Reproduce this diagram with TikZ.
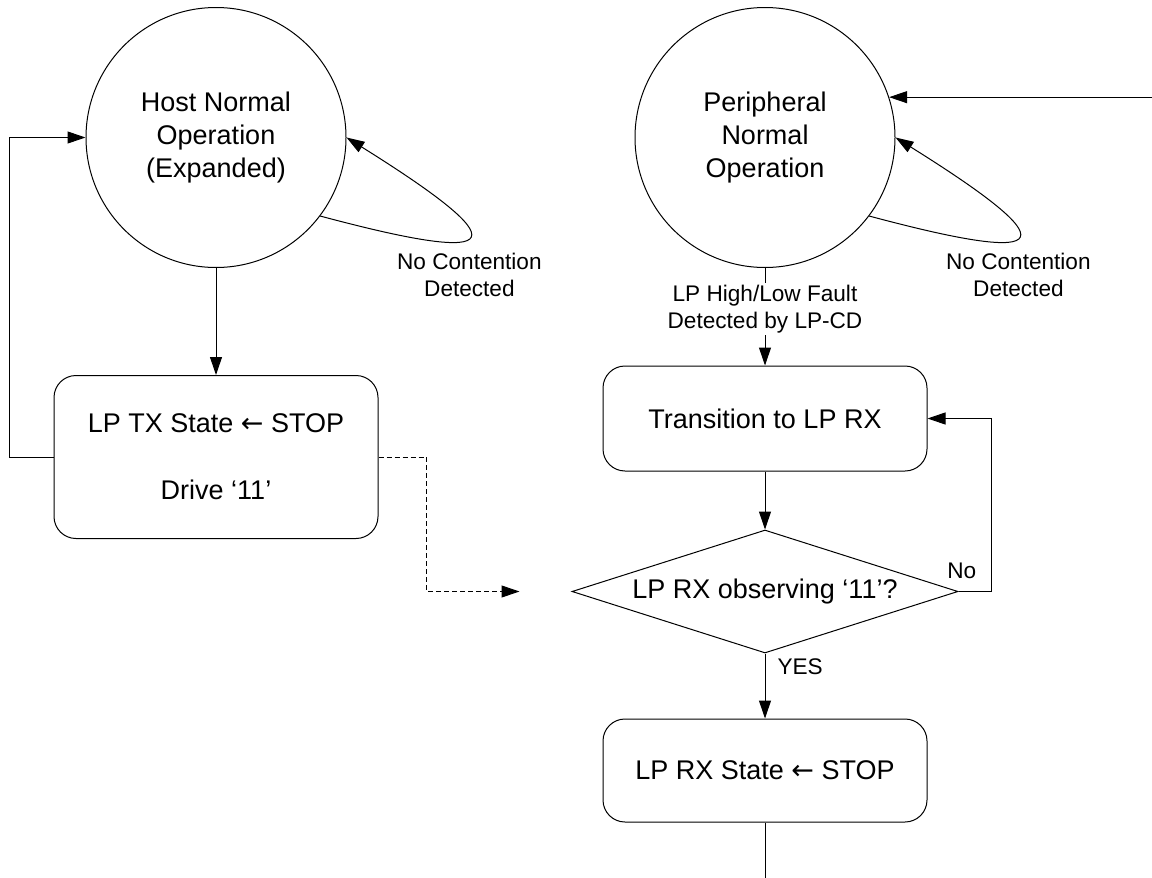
\documentclass[tikz,border=0pt]{standalone}
\usepackage{fontspec}
\setmainfont{Liberation Sans}
\newfontfamily\arrowfont{DejaVu Sans}
\usepackage{tikz}
\usetikzlibrary{calc}
\usetikzlibrary{shapes.geometric}
\usetikzlibrary{arrows.meta}
\usetikzlibrary{positioning}
\newcommand{\setto}{{\arrowfont ←}}
\tikzset{
    state/.style={
           circle,
           draw=black,
           minimum size=130pt,
           inner sep=0pt,
           align=center,
           font=\fontsize{13.5}{16.5}\selectfont,
           },
    stepbox/.style={
           rectangle,
           rounded corners=11pt,
           draw=black,
           minimum width=162pt,
           inner sep=2pt,
           align=center,
           font=\fontsize{13.5}{16.5}\selectfont,
           },
    query/.style={
           diamond,
           aspect=3.14,
           draw=black,
           minimum width=193pt,
           minimum height=61.5pt,
           inner sep=0pt,
           font=\fontsize{13.5}{16.5}\selectfont,
           },
    note/.style={
           align=center,
           inner sep=1pt,
           font=\fontsize{11.3}{13.5}\selectfont,
           },
}
\begin{document}
\begin{tikzpicture}[>={Triangle[length=9pt,width=6pt]}, line width=0.5pt]
      \useasboundingbox (0,0) rectangle (576pt,-439pt);
      \node[state] (s_host) at (108pt,-68.75pt) {Host Normal\\Operation\\(Expanded)};
      \node[state] (s_peri) [right=144pt of s_host] {Peripheral\\Normal\\Operation};
      \node[stepbox, minimum height=81.5pt] (s_tx) [below=53.5pt of s_host] {LP TX State \setto{} STOP\\[17pt]Drive ‘11’};
      \node[stepbox, minimum height=52.5pt] (s_tran) [below=48.75pt of s_peri] {Transition to LP RX};
      \node[query] (s_chk) [below=29pt of s_tran] {LP RX observing ‘11’?};
      \node[stepbox, minimum height=51.5pt] (s_rx) [below=32.5pt of s_chk] {LP RX State \setto{} STOP};
      \coordinate (c_wake) at ($(s_peri.18)+(132.2pt,0)$);
      \coordinate[left=26pt of s_chk] (c_hint);
      \coordinate[below=29pt of s_rx] (c_out);
      \path[->]
      (s_host) edge (s_tx)
      (s_host.-37) edge[out=-15, in=-32, distance=100pt] node[note, anchor=north, yshift=-7.5pt] {No Contention\\Detected} (s_host.0)
      (s_peri.-37) edge[out=-15, in=-32, distance=100pt] node[note, anchor=north, yshift=-7.5pt] {No Contention\\Detected} (s_peri.0)
      (s_peri) edge node[note, fill=white, pos=0.42] {LP High/Low Fault\\Detected by LP-CD} (s_tran)
      (s_tran) edge (s_chk)
      (s_chk) edge node[note, pos=0.2, anchor=west, xshift=5pt] {YES} (s_rx)
      (c_wake) edge (s_peri.18);
      \draw (s_rx) -- (c_out);
      \draw[->] (s_tx.west) -- ++(-22pt,0) |- (s_host.west);
      \draw[->] (s_chk.east) -- node[note, above=5pt, pos=0.1] {No} ++(16.5pt,0) |- (s_tran.east);
      \draw[->, dash pattern=on 2.5pt off 1.5pt] (s_tx.east) -- ++(24pt,0) |- (c_hint);
    \end{tikzpicture}
\end{document}
